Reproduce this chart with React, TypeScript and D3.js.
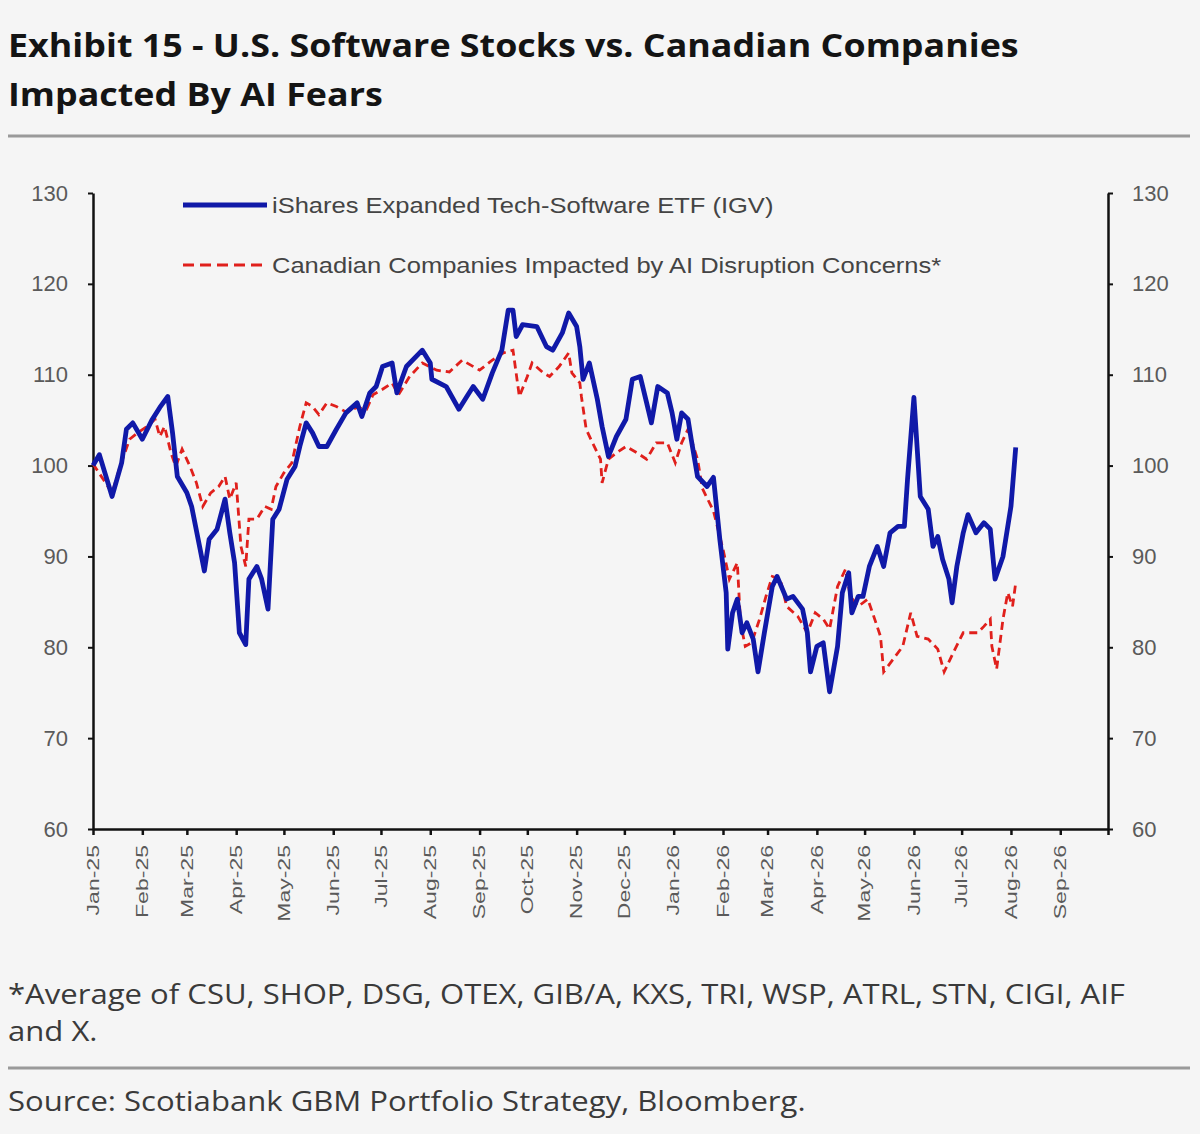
import * as d3 from "d3";
import React, { useEffect, useRef } from "react";

// IGV (blue)
const igvDates = [
  "2025-01-01", "2025-01-05", "2025-01-13", "2025-01-19", "2025-01-22", "2025-01-26", "2025-02-01", "2025-02-07",
  "2025-02-12", "2025-02-17", "2025-02-20", "2025-02-23", "2025-03-01", "2025-03-04", "2025-03-09", "2025-03-12",
  "2025-03-15", "2025-03-20", "2025-03-25", "2025-03-28", "2025-03-31", "2025-04-03", "2025-04-07", "2025-04-09",
  "2025-04-14", "2025-04-17", "2025-04-21", "2025-04-24", "2025-04-28", "2025-05-03", "2025-05-08", "2025-05-11",
  "2025-05-15", "2025-05-19", "2025-05-23", "2025-05-28", "2025-06-03", "2025-06-09", "2025-06-16", "2025-06-19",
  "2025-06-24", "2025-06-28", "2025-07-02", "2025-07-08", "2025-07-11", "2025-07-17", "2025-07-27", "2025-08-01",
  "2025-08-02", "2025-08-11", "2025-08-19", "2025-08-24", "2025-08-28", "2025-09-03", "2025-09-09", "2025-09-15",
  "2025-09-19", "2025-09-22", "2025-09-24", "2025-09-28", "2025-10-07", "2025-10-13", "2025-10-17", "2025-10-23",
  "2025-10-27", "2025-11-01", "2025-11-03", "2025-11-05", "2025-11-09", "2025-11-14", "2025-11-17", "2025-11-21",
  "2025-11-26", "2025-12-02", "2025-12-06", "2025-12-11", "2025-12-15", "2025-12-18", "2025-12-22", "2025-12-28",
  "2025-12-31", "2026-01-03", "2026-01-06", "2026-01-10", "2026-01-12", "2026-01-16", "2026-01-22", "2026-01-26",
  "2026-01-30", "2026-02-03", "2026-02-04", "2026-02-07", "2026-02-10", "2026-02-13", "2026-02-16", "2026-02-20",
  "2026-02-23", "2026-02-27", "2026-03-04", "2026-03-07", "2026-03-13", "2026-03-17", "2026-03-23", "2026-03-26",
  "2026-03-28", "2026-04-01", "2026-04-05", "2026-04-09", "2026-04-14", "2026-04-17", "2026-04-21", "2026-04-23",
  "2026-04-27", "2026-04-30", "2026-05-04", "2026-05-09", "2026-05-13", "2026-05-17", "2026-05-22", "2026-05-26",
  "2026-05-28", "2026-06-01", "2026-06-05", "2026-06-10", "2026-06-13", "2026-06-16", "2026-06-19", "2026-06-23",
  "2026-06-25", "2026-06-28", "2026-07-02", "2026-07-05", "2026-07-10", "2026-07-15", "2026-07-19", "2026-07-22",
  "2026-07-27", "2026-08-01", "2026-08-04",
];
const igvValues = [
  100, 101.2, 96.6, 100.3, 104, 104.7, 102.9, 105,
  106.4, 107.6, 103.6, 98.8, 97, 95.5, 91.1, 88.4,
  91.9, 93, 96.3, 92.6, 89.3, 81.6, 80.3, 87.5,
  88.9, 87.5, 84.2, 94.1, 95.2, 98.5, 99.9, 102.1,
  104.7, 103.6, 102.1, 102.1, 104, 105.8, 106.9, 105.4,
  108, 108.7, 110.9, 111.3, 108, 110.9, 112.7, 111.3,
  109.5, 108.7, 106.2, 107.6, 108.7, 107.3, 110.2, 112.7,
  117.1, 117.1, 114.2, 115.5, 115.3, 113.1, 112.7, 114.6,
  116.8, 115.3, 113.1, 109.5, 111.3, 107.3, 104.3, 101,
  103.2, 105.1, 109.5, 109.8, 106.9, 104.7, 108.7, 108,
  105.8, 102.9, 105.8, 105.1, 102.9, 98.8, 97.7, 98.7,
  91.9, 86, 79.8, 83.8, 85.3, 81.6, 82.7, 80.9,
  77.3, 81.6, 86.7, 87.8, 85.3, 85.6, 84.2, 81.6,
  77.3, 80.1, 80.5, 75.1, 80.1, 86, 88.2, 83.8,
  85.6, 85.6, 88.9, 91.1, 88.9, 92.6, 93.3, 93.3,
  98.5, 107.5, 96.6, 95.2, 91.1, 92.2, 89.7, 87.5,
  84.9, 88.9, 92.6, 94.6, 92.6, 93.7, 93, 87.5,
  90, 95.5, 102,
];

// Canadian basket (red dashed)
const canDates = [
  "2025-01-01", "2025-01-13", "2025-01-18", "2025-01-24", "2025-01-29", "2025-02-04", "2025-02-09", "2025-02-12",
  "2025-02-15", "2025-02-19", "2025-02-22", "2025-02-26", "2025-03-03", "2025-03-07", "2025-03-11", "2025-03-16",
  "2025-03-21", "2025-03-25", "2025-03-28", "2025-04-01", "2025-04-04", "2025-04-07", "2025-04-09", "2025-04-14",
  "2025-04-19", "2025-04-23", "2025-04-26", "2025-05-01", "2025-05-06", "2025-05-11", "2025-05-15", "2025-05-19",
  "2025-05-23", "2025-05-28", "2025-06-03", "2025-06-09", "2025-06-16", "2025-06-22", "2025-06-26", "2025-07-02",
  "2025-07-08", "2025-07-12", "2025-07-19", "2025-07-27", "2025-08-05", "2025-08-13", "2025-08-21", "2025-09-01",
  "2025-09-09", "2025-09-16", "2025-09-22", "2025-09-26", "2025-10-01", "2025-10-04", "2025-10-11", "2025-10-15",
  "2025-10-21", "2025-10-27", "2025-10-29", "2025-11-03", "2025-11-04", "2025-11-07", "2025-11-11", "2025-11-16",
  "2025-11-17", "2025-11-21", "2025-11-26", "2025-12-02", "2025-12-09", "2025-12-15", "2025-12-21", "2025-12-28",
  "2026-01-02", "2026-01-06", "2026-01-10", "2026-01-16", "2026-01-19", "2026-01-26", "2026-02-01", "2026-02-05",
  "2026-02-10", "2026-02-12", "2026-02-15", "2026-02-19", "2026-02-24", "2026-02-28", "2026-03-04", "2026-03-09",
  "2026-03-13", "2026-03-20", "2026-03-26", "2026-03-31", "2026-04-05", "2026-04-09", "2026-04-14", "2026-04-19",
  "2026-04-22", "2026-04-27", "2026-05-03", "2026-05-06", "2026-05-11", "2026-05-13", "2026-05-19", "2026-05-25",
  "2026-05-30", "2026-06-03", "2026-06-10", "2026-06-16", "2026-06-20", "2026-06-26", "2026-07-02", "2026-07-11",
  "2026-07-15", "2026-07-19", "2026-07-20", "2026-07-23", "2026-07-27", "2026-07-30", "2026-08-02", "2026-08-04",
];
const canValues = [
  100.2, 97, 99.9, 102.9, 103.6, 104.3, 105.1, 103.2,
  104.3, 101.4, 99.9, 101.8, 99.9, 98.1, 95.5, 97,
  97.7, 98.8, 96.3, 98.1, 91.1, 88.9, 94.1, 94.1,
  95.5, 95.2, 97.7, 99.2, 100.3, 104.3, 106.9, 106.5,
  105.6, 106.9, 106.5, 105.9, 106.4, 106.2, 107.8, 108.4,
  109.1, 107.8, 109.8, 111.3, 110.5, 110.3, 111.6, 110.5,
  111.6, 112.4, 112.7, 107.6, 109.8, 111.3, 110.2, 109.8,
  110.9, 112.4, 110.2, 109.1, 107.6, 104, 102.5, 100.7,
  98.1, 100.7, 101.4, 102.1, 101.4, 100.7, 102.5, 102.5,
  100.3, 102.5, 104, 100.7, 97.5, 95, 90.8, 87.5,
  89.3, 82.7, 80.1, 80.5, 83.1, 85.6, 87.8, 87.5,
  84.5, 83.4, 81.6, 83.8, 83.1, 82, 86.7, 88.6,
  85.6, 84.5, 85.3, 83.8, 81.2, 77.3, 78.7, 80.1,
  83.8, 81.2, 80.9, 79.8, 77.3, 79.5, 81.6, 81.6,
  82.3, 83.1, 80.1, 77.6, 83.1, 86, 84.5, 87.1,
];

const yTicks = [60, 70, 80, 90, 100, 110, 120, 130];
const monthLabels = [
  "Jan-25", "Feb-25", "Mar-25", "Apr-25", "May-25", "Jun-25", "Jul-25", "Aug-25", "Sep-25", "Oct-25", "Nov-25",
  "Dec-25", "Jan-26", "Feb-26", "Mar-26", "Apr-26", "May-26", "Jun-26", "Jul-26", "Aug-26", "Sep-26",
];
const seriesNames = [
  "iShares Expanded Tech-Software ETF (IGV)",
  "Canadian Companies Impacted by AI Disruption Concerns*",
];

const W = 1200;
const H = 1134;
const BG = "#f5f5f5";
const BLUE = "#1019a8";
const RED = "#e0201c";
const AXIS_FONT = "'Liberation Sans', Arial, sans-serif";
const TEXT_FONT = "'Open Sans', 'Noto Sans', sans-serif";

export default function App() {
  const ref = useRef(null);

  useEffect(() => {
    const svg = d3.select(ref.current);
    svg.selectAll("*").remove();

    const parse = d3.timeParse("%Y-%m-%d");
    const parseMonth = d3.timeParse("%b-%y");

    const x = d3
      .scaleTime()
      .domain([new Date(2025, 0, 1), new Date(2026, 9, 1)])
      .range([93, 1108]);
    const y = d3.scaleLinear().domain([60, 130]).range([829, 193]);

    svg.append("rect").attr("width", W).attr("height", H).attr("fill", BG);

    // title (the source picture is a bit wide, so stretch horizontally)
    const title = svg
      .append("text")
      .attr("transform", "translate(8,0) scale(1.12,1)")
      .attr("font-family", TEXT_FONT)
      .attr("font-weight", 700)
      .attr("font-size", 32)
      .attr("fill", "#141414");
    title.append("tspan").attr("x", 0).attr("y", 57).text("Exhibit 15 - U.S. Software Stocks vs. Canadian Companies");
    title.append("tspan").attr("x", 0).attr("y", 106).text("Impacted By AI Fears");

    svg.append("line").attr("x1", 8).attr("x2", 1190).attr("y1", 136).attr("y2", 136)
      .attr("stroke", "#9a9a9a").attr("stroke-width", 3);

    // axes
    const left = svg
      .append("g")
      .attr("transform", "translate(93,0)")
      .call(d3.axisLeft(y).tickValues(yTicks).tickSize(5).tickSizeOuter(0).tickPadding(20));
    const right = svg
      .append("g")
      .attr("transform", "translate(1108,0)")
      .call(d3.axisRight(y).tickValues(yTicks).tickSize(5).tickSizeOuter(0).tickPadding(19));
    [left, right].forEach((g) => {
      g.select(".domain").attr("stroke", "#111").attr("stroke-width", 2.5);
      g.selectAll(".tick line").attr("stroke", "#111").attr("stroke-width", 2);
      g.selectAll(".tick text")
        .attr("font-family", AXIS_FONT)
        .attr("font-size", 22)
        .attr("fill", "#5a5a5a");
    });

    const monthDates = monthLabels.map((m) => parseMonth(m));
    const bottom = svg
      .append("g")
      .attr("transform", "translate(0,829)")
      .call(
        d3
          .axisBottom(x)
          .tickValues([...monthDates, new Date(2026, 9, 1)])
          .tickSize(6)
          .tickSizeOuter(0)
          .tickFormat(() => "")
      );
    bottom.select(".domain").attr("stroke", "#111").attr("stroke-width", 2.5);
    bottom.selectAll(".tick line").attr("stroke", "#111").attr("stroke-width", 2.5);

    svg
      .append("g")
      .selectAll("text")
      .data(monthLabels)
      .enter()
      .append("text")
      .attr("transform", (d) => `translate(${x(parseMonth(d))},845) scale(1,1.44) rotate(-90)`)
      .attr("text-anchor", "end")
      .attr("dominant-baseline", "central")
      .attr("font-family", AXIS_FONT)
      .attr("font-size", 16)
      .attr("fill", "#5a5a5a")
      .text((d) => d);

    // lines
    const line = d3
      .line()
      .x((d) => x(d[0]))
      .y((d) => y(d[1]));

    const canData = canDates.map((d, i) => [parse(d), canValues[i]]);
    const igvData = igvDates.map((d, i) => [parse(d), igvValues[i]]);

    svg.append("path")
      .datum(canData)
      .attr("d", line)
      .attr("fill", "none")
      .attr("stroke", RED)
      .attr("stroke-width", 2.8)
      .attr("stroke-dasharray", "8,5");

    svg.append("path")
      .datum(igvData)
      .attr("d", line)
      .attr("fill", "none")
      .attr("stroke", BLUE)
      .attr("stroke-width", 4.8)
      .attr("stroke-linejoin", "round");

    // legend
    const legend = svg.append("g");
    legend.append("line").attr("x1", 183).attr("x2", 267).attr("y1", 205).attr("y2", 205)
      .attr("stroke", BLUE).attr("stroke-width", 4.8);
    legend.append("line").attr("x1", 183).attr("x2", 267).attr("y1", 265).attr("y2", 265)
      .attr("stroke", RED).attr("stroke-width", 2.8).attr("stroke-dasharray", "11,6");
    legend
      .selectAll("text")
      .data(seriesNames)
      .enter()
      .append("text")
      .attr("transform", (d, i) => `translate(272,${205 + i * 60}) scale(1.16,1)`)
      .attr("dominant-baseline", "central")
      .attr("font-family", AXIS_FONT)
      .attr("font-size", 22)
      .attr("fill", "#444")
      .text((d) => d);

    // notes
    const notes = svg
      .append("g")
      .attr("transform", "translate(8,0) scale(1.11,1)")
      .attr("font-family", TEXT_FONT)
      .attr("font-size", 28)
      .attr("fill", "#3a3a3a");
    notes.append("text").attr("x", 0).attr("y", 1004)
      .text("*Average of CSU, SHOP, DSG, OTEX, GIB/A, KXS, TRI, WSP, ATRL, STN, CIGI, AIF");
    notes.append("text").attr("x", 0).attr("y", 1041).text("and X.");
    notes.append("text").attr("x", 0).attr("y", 1111)
      .text("Source: Scotiabank GBM Portfolio Strategy, Bloomberg.");
    svg.append("line").attr("x1", 8).attr("x2", 1190).attr("y1", 1068).attr("y2", 1068)
      .attr("stroke", "#9a9a9a").attr("stroke-width", 3);
  }, []);

  return (
    <svg
      ref={ref}
      width={W}
      height={H}
      style={{ position: "absolute", left: 0, top: 0, display: "block" }}
    />
  );
}
